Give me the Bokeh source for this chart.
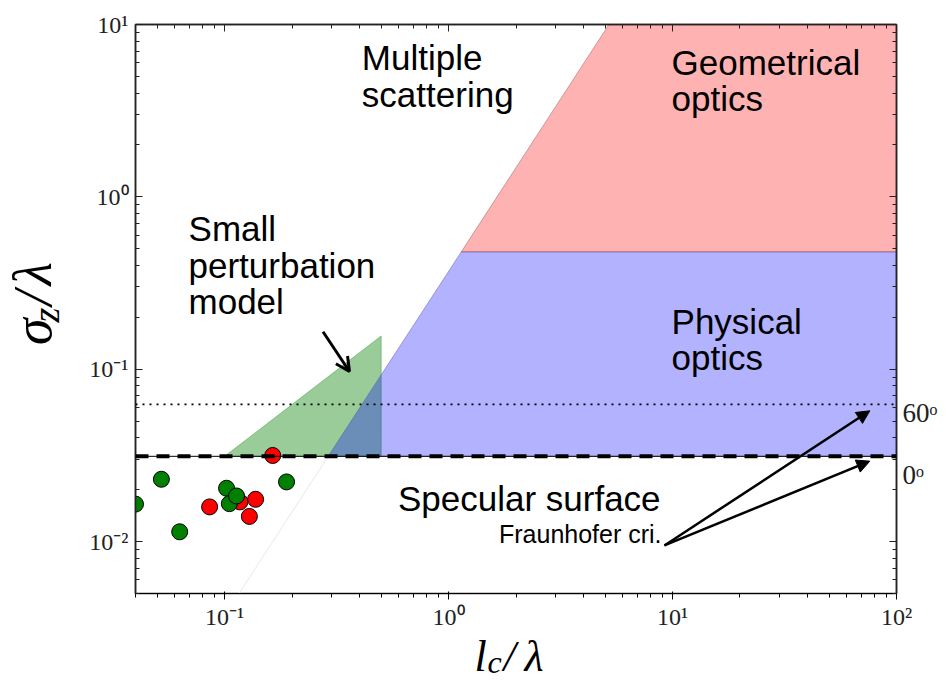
from bokeh.plotting import figure
from bokeh.layouts import column, row
from bokeh.models import (Label, Arrow, NormalHead, OpenHead, LogAxis, FixedTicker,
                          CustomJSTickFormatter, Span, Range1d)
from bokeh.embed import file_html
from bokeh.resources import INLINE

# Scattering regimes in the (l_c/λ, σ_z/λ) plane
phys_x = [0.29, 1.14, 100, 100]
phys_y = [0.03125, 0.48, 0.48, 0.03125]
geom_x = [1.14, 5.2, 100, 100]
geom_y = [0.48, 10, 10, 0.48]
spm_x = [0.1, 0.5, 0.5]
spm_y = [0.03125, 0.156, 0.03125]
# continuation of the σ ∝ l² boundary below the specular limit
edge_x = [0.116, 0.29]
edge_y = [0.005, 0.03125]

# Fraunhofer criterion σ/λ < 1/(32 cos θ)
fraun_0 = 1 / 32
fraun_60 = 1 / 16

# measured surfaces
green_l = [0.040, 0.0522, 0.063, 0.102, 0.105, 0.113, 0.189]
green_s = [0.0165, 0.023, 0.0114, 0.0204, 0.0166, 0.0184, 0.0222]
red_l = [0.0857, 0.117, 0.129, 0.1375, 0.164]
red_s = [0.0159, 0.0170, 0.0140, 0.0176, 0.0316]

x_major = [0.1, 1, 10, 100]
y_major = [0.01, 0.1, 1, 10]
x_labels = {0.1: "10⁻¹", 1: "10⁰", 10: "10¹", 100: "10²"}
y_labels = {0.01: "10⁻²", 0.1: "10⁻¹", 1: "10⁰", 10: "10¹"}
angle_pos = [0.0557, 0.0245]
angle_labels = {0.0557: "60ᵒ", 0.0245: "0ᵒ"}


def minors(decades):
    return [m * 10.0 ** d for d in decades for m in range(2, 10)]


x_minor = minors([-2, -1, 0, 1])
y_minor = minors([-3, -2, -1, 0])

SANS = "Liberation Sans"
SERIF = "Liberation Serif"
PLOT_H = 632

p = figure(width=879, height=PLOT_H, x_axis_type="log", y_axis_type="log",
           x_range=(0.04, 100), y_range=(0.005, 10),
           output_backend="svg", toolbar_location=None,
           min_border_left=65, min_border_right=53,
           min_border_top=24, min_border_bottom=35)
p.background_fill_color = "white"
p.border_fill_color = "white"
p.outline_line_color = "#222222"
p.outline_line_width = 1.5
p.xgrid.visible = False
p.ygrid.visible = False

# regime patches
p.patch(spm_x, spm_y, fill_color="green", fill_alpha=0.4,
        line_color="green", line_alpha=0.35, line_width=1)
p.patch(phys_x, phys_y, fill_color="blue", fill_alpha=0.3,
        line_color="#5050b0", line_alpha=0.45, line_width=1)
p.patch(geom_x, geom_y, fill_color="red", fill_alpha=0.3,
        line_color="#905050", line_alpha=0.45, line_width=1)
p.line(edge_x, edge_y, line_color="#eeeeee", line_width=1.2)

# Fraunhofer limits
p.add_layout(Span(location=fraun_0, dimension="width", line_color="black", line_width=1))
p.add_layout(Span(location=fraun_0, dimension="width", line_color="black",
                  line_width=4, line_dash="13 8"))
p.add_layout(Span(location=fraun_60, dimension="width", line_color="black",
                  line_width=1.8, line_dash="2 5"))

# data points
p.scatter(red_l, red_s, size=16, fill_color="red", line_color="black", line_width=1)
p.scatter(green_l, green_s, size=16, fill_color="green", line_color="black", line_width=1)

# axes: ticks inside on all four sides
for ax, ticks, minor, labels in ((p.xaxis[0], x_major, x_minor, x_labels),
                                 (p.yaxis[0], y_major, y_minor, y_labels)):
    ax.ticker = FixedTicker(ticks=ticks, minor_ticks=minor)
    ax.major_label_overrides = labels
    ax.major_label_text_font = SERIF
    ax.major_label_text_font_size = "24px"
    ax.major_label_text_color = "#222222"
    ax.major_label_text_line_height = 1.0
    ax.axis_label_standoff = 0

p.xaxis.major_label_standoff = 4
p.yaxis.major_label_standoff = 7

top = LogAxis(ticker=FixedTicker(ticks=x_major, minor_ticks=x_minor),
              formatter=CustomJSTickFormatter(code="return ''"))
right = LogAxis(ticker=FixedTicker(ticks=y_major, minor_ticks=y_minor),
                formatter=CustomJSTickFormatter(code="return ''"))
p.add_layout(top, "above")
p.add_layout(right, "right")

for ax in (p.xaxis[0], p.yaxis[0], top, right):
    ax.major_tick_in = 7
    ax.major_tick_out = 0
    ax.minor_tick_in = 4
    ax.minor_tick_out = 0
    ax.axis_line_color = "#222222"
    ax.axis_line_width = 1.5
    ax.major_tick_line_color = "#222222"
    ax.minor_tick_line_color = "#222222"
for ax in (top, right):
    ax.major_label_standoff = 0
    ax.axis_label_standoff = 0

# incidence angles of the two Fraunhofer limits, outside the right edge
angles = LogAxis(ticker=FixedTicker(ticks=angle_pos, minor_ticks=[]),
                 major_label_overrides=angle_labels,
                 major_label_text_font=SERIF,
                 major_label_text_font_size="27px", major_label_text_color="#222222",
                 major_label_standoff=6, major_tick_in=0, major_tick_out=0,
                 minor_tick_in=0, minor_tick_out=0, axis_line_color=None,
                 axis_label_standoff=0)
p.add_layout(angles, "right")


def text(fig, x, y, s, size="35px", font=SANS, style="normal", align="left", angle=0):
    fig.add_layout(Label(x=x, y=y, text=s, text_font=font, text_font_size=size,
                         text_font_style=style, text_align=align,
                         text_baseline="alphabetic", text_color="black", angle=angle))


text(p, 0.41, 6.40, "Multiple")
text(p, 0.41, 3.93, "scattering")
text(p, 9.9, 5.98, "Geometrical")
text(p, 9.9, 3.71, "optics")
text(p, 0.069, 0.657, "Small")
text(p, 0.069, 0.402, "perturbation")
text(p, 0.069, 0.246, "model")
text(p, 9.9, 0.189, "Physical")
text(p, 9.9, 0.117, "optics")
text(p, 0.594, 0.0177, "Specular surface")
text(p, 8.93, 0.0110, "Fraunhofer cri.", size="25px", align="right")

# arrows
p.add_layout(Arrow(end=OpenHead(size=14, line_width=3, line_color="black"),
                   x_start=0.275, y_start=0.165, x_end=0.361, y_end=0.097,
                   line_width=3, line_color="black"))
for tip in (0.0574, 0.0293):
    p.add_layout(Arrow(end=NormalHead(size=13, fill_color="black", line_color="black"),
                       x_start=9.2, y_start=0.0095, x_end=76, y_end=tip,
                       line_width=2.5, line_color="black"))


def title_strip(width, height, xr, yr):
    f = figure(width=width, height=height, x_range=xr, y_range=yr,
               output_backend="svg", toolbar_location=None, min_border=0,
               x_axis_location=None, y_axis_location=None)
    f.outline_line_color = None
    f.background_fill_color = "white"
    f.border_fill_color = "white"
    f.grid.visible = False
    return f


# vertical axis title, read bottom to top (strip coordinates in pixels, y downwards)
yfig = title_strip(70, PLOT_H, Range1d(0, 70), Range1d(PLOT_H, 0))
text(yfig, 32, 356, "σ", size="54px", font=SERIF, style="italic", angle=1.5708)
text(yfig, 45, 331, "z", size="38px", font=SERIF, style="italic", angle=1.5708)
text(yfig, 32, 312, "/", size="54px", font=SERIF, style="italic", angle=1.5708)
text(yfig, 32, 290, "λ", size="54px", font=SERIF, style="italic", angle=1.5708)

# horizontal axis title
xfig = title_strip(949, 681 - PLOT_H, Range1d(0, 949), Range1d(681, PLOT_H))
text(xfig, 474, 655.5, "l", size="44px", font=SERIF, style="italic")
text(xfig, 487, 661.5, "c", size="32px", font=SERIF, style="italic")
text(xfig, 503, 655.5, "/", size="44px", font=SERIF, style="italic")
text(xfig, 524, 655.5, "λ", size="44px", font=SERIF, style="italic")

layout = column(row(yfig, p), xfig)
open("out.html", "w").write(file_html(layout, INLINE))
